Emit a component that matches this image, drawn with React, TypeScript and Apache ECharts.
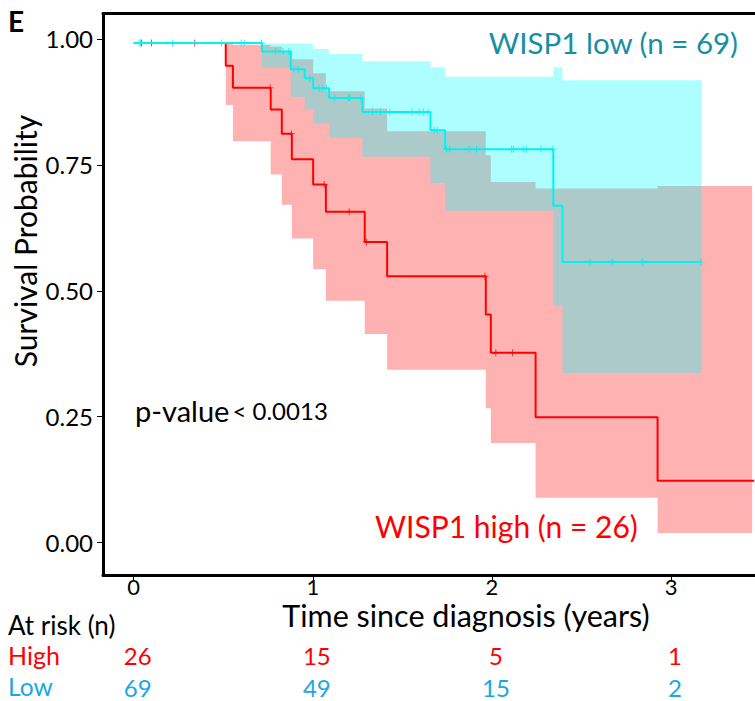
import React, { useEffect, useRef } from "react";
import * as echarts from "echarts";

// ---------- data ----------
const tickYears = [0, 1, 2, 3];
const yTicks = [0, 0.25, 0.5, 0.75, 1];
const highAtRisk = [26, 15, 5, 1];
const lowAtRisk = [69, 49, 15, 2];

// Kaplan-Meier step curves (time in years, survival probability)
const lowStepT = [0, 0.716, 0.877, 0.955, 1.002, 1.091, 1.277, 1.657, 1.739, 2.343, 2.394, 3.168];
const lowStepS = [0.992, 0.975, 0.94, 0.922, 0.902, 0.883, 0.855, 0.819, 0.781, 0.669, 0.557, 0.557];

const highStepT = [0, 0.514, 0.554, 0.765, 0.827, 0.883, 1.002, 1.073, 1.29, 1.415, 1.966, 1.994, 2.244, 2.925, 3.465];
const highStepS = [0.992, 0.947, 0.903, 0.86, 0.812, 0.761, 0.711, 0.657, 0.597, 0.529, 0.453, 0.377, 0.249, 0.123, 0.123];

// censoring times
const lowCensorT = [0.03, 0.038, 0.216, 0.49, 0.6, 0.617, 0.713, 0.793, 0.834, 0.866, 0.894, 0.918, 0.983, 1.034, 1.052, 1.076, 1.123, 1.2, 1.207, 1.268, 1.333, 1.378, 1.43, 1.553, 1.594, 1.617, 1.644, 1.678, 1.694, 1.747, 1.765, 1.873, 1.914, 2.11, 2.12, 2.175, 2.194, 2.274, 2.34, 2.547, 2.672, 2.842, 3.168];
const highCensorT = [0.043, 0.099, 0.341, 0.762, 0.88, 1.063, 1.203, 1.3, 1.961, 2.022, 2.116];

// confidence bands: interval edges, and upper / lower value per interval
const lowBandT = [0.716, 0.877, 0.955, 1.002, 1.091, 1.277, 1.657, 1.739, 2.343, 2.394, 3.17];
const lowBandUpper = [0.991, 0.991, 0.991, 0.98, 0.97, 0.956, 0.944, 0.925, 0.944, 0.918];
const lowBandLower = [0.943, 0.885, 0.859, 0.832, 0.804, 0.766, 0.714, 0.659, 0.471, 0.337];

const highBandT = [0.514, 0.554, 0.765, 0.827, 0.883, 1.002, 1.073, 1.29, 1.415, 1.966, 1.994, 2.244, 2.925, 3.453];
const highBandUpper = [0.99, 0.988, 0.985, 0.975, 0.96, 0.932, 0.896, 0.862, 0.817, 0.769, 0.716, 0.703, 0.708];
const highBandLower = [0.869, 0.797, 0.731, 0.671, 0.604, 0.543, 0.48, 0.414, 0.343, 0.267, 0.198, 0.089, 0.019];

// ---------- helpers ----------
const FONT = "Lato";
const X_MIN = -0.1714;
const X_MAX = 3.469;
const Y_MIN = -0.0643;
const Y_MAX = 1.0506;

function survAt(T: number[], S: number[], t: number) {
  let v = S[0];
  for (let i = 0; i < T.length; i++) if (T[i] <= t) v = S[i];
  return v;
}

function bandPoints(T: number[], U: number[], L: number[]) {
  const pts: number[][] = [];
  for (let i = 0; i < U.length; i++) {
    pts.push([T[i], U[i]], [T[i + 1], U[i]]);
  }
  for (let i = L.length - 1; i >= 0; i--) {
    pts.push([T[i + 1], L[i]], [T[i], L[i]]);
  }
  return pts;
}

function bandSeries(T: number[], U: number[], L: number[], fill: string) {
  const pts = bandPoints(T, U, L);
  return {
    type: "custom",
    data: [[T[0], U[0]]],
    encode: { x: 0, y: 1 },
    silent: true,
    renderItem: (_p: any, api: any) => ({
      type: "polygon",
      shape: { points: pts.map((p) => api.coord(p)) },
      style: { fill, stroke: "none" },
    }),
  };
}

const PLUS =
  "path://M-0.13,-1H0.13V-0.13H1V0.13H0.13V1H-0.13V0.13H-1V-0.13H-0.13Z";

export default function App() {
  const ref = useRef<HTMLDivElement>(null);

  useEffect(() => {
    if (!ref.current) return;
    const chart = echarts.init(ref.current, undefined, { renderer: "svg" });

    const baseX = {
      type: "value",
      min: X_MIN,
      max: X_MAX,
      splitLine: { show: false },
    };

    const riskAxis = (vals: number[], color: string, offset: number) => ({
      ...baseX,
      position: "bottom",
      offset,
      axisLine: { show: false },
      axisTick: { show: false },
      axisLabel: {
        show: true,
        customValues: tickYears,
        formatter: (v: number) => String(vals[tickYears.indexOf(Math.round(v))]),
        color,
        fontFamily: FONT,
        fontSize: 24,
        lineHeight: 20,
        margin: 0,
        verticalAlign: "middle",
        padding: [0, 0, 0, 8],
      },
    });

    chart.setOption({
      animation: false,
      backgroundColor: "#fff",
      grid: { left: 103, right: 0, top: 13.5, bottom: 126, containLabel: false },
      xAxis: [
        {
          ...baseX,
          position: "bottom",
          axisLine: { show: true, onZero: false, lineStyle: { color: "#000", width: 3 } },
          axisTick: {
            show: true,
            customValues: tickYears,
            length: 5,
            lineStyle: { color: "#000", width: 1 },
          },
          axisLabel: {
            show: true,
            customValues: tickYears,
            formatter: (v: number) => String(Math.round(v)),
            color: "#000",
            fontFamily: FONT,
            fontSize: 22,
            lineHeight: 18,
            margin: 2,
          },
        },
        {
          ...baseX,
          position: "top",
          axisLine: { show: true, onZero: false, lineStyle: { color: "#000", width: 3 } },
          axisTick: { show: false },
          axisLabel: { show: false },
        },
        riskAxis(highAtRisk, "#FF0000", 80),
        riskAxis(lowAtRisk, "#1AA7E8", 112.5),
      ],
      yAxis: {
        type: "value",
        min: Y_MIN,
        max: Y_MAX,
        splitLine: { show: false },
        axisLine: { show: true, onZero: false, lineStyle: { color: "#000", width: 3 } },
        axisTick: {
          show: true,
          customValues: yTicks,
          length: 6,
          lineStyle: { color: "#000", width: 1 },
        },
        axisLabel: {
          show: true,
          customValues: yTicks,
          formatter: (v: number) => v.toFixed(2),
          color: "#000",
          fontFamily: FONT,
          fontSize: 24,
          margin: 10,
        },
      },
      series: [
        bandSeries(highBandT, highBandUpper, highBandLower, "rgba(255,0,0,0.3)"),
        bandSeries(lowBandT, lowBandUpper, lowBandLower, "rgba(0,255,255,0.32)"),
        {
          type: "line",
          step: "end",
          symbol: "none",
          data: highStepT.map((t, i) => [t, highStepS[i]]),
          lineStyle: { color: "#FF0000", width: 2 },
          silent: true,
        },
        {
          type: "line",
          step: "end",
          symbol: "none",
          data: lowStepT.map((t, i) => [t, lowStepS[i]]),
          lineStyle: { color: "#00F2F2", width: 2 },
          silent: true,
        },
        {
          type: "scatter",
          symbol: PLUS,
          symbolSize: 7,
          itemStyle: { color: "#E00000" },
          data: highCensorT.map((t) => [t, survAt(highStepT, highStepS, t)]),
          silent: true,
        },
        {
          type: "scatter",
          symbol: PLUS,
          symbolSize: 7,
          itemStyle: { color: "#00E8E8" },
          data: lowCensorT.map((t) => [t, survAt(lowStepT, lowStepS, t)]),
          silent: true,
        },
      ],
      graphic: [
        {
          type: "text",
          x: 8,
          y: 21,
          style: {
            text: "E",
            fontFamily: FONT,
            fontWeight: "bold",
            fontSize: 28,
            fill: "#000",
            verticalAlign: "middle",
          },
        },
        {
          type: "text",
          x: 738,
          y: 42,
          style: {
            text: "WISP1 low (n = 69)",
            fontFamily: FONT,
            fontSize: 29.5,
            fill: "#168FA3",
            align: "right",
            verticalAlign: "middle",
          },
        },
        {
          type: "text",
          x: 375,
          y: 526,
          style: {
            text: "WISP1 high (n = 26)",
            fontFamily: FONT,
            fontSize: 30,
            fill: "#FF0000",
            align: "left",
            verticalAlign: "middle",
          },
        },
        {
          type: "text",
          x: 135,
          y: 410,
          style: {
            text: "{a|p-value} {b|< 0.0013}",
            fontFamily: FONT,
            fill: "#000",
            verticalAlign: "middle",
            rich: {
              a: { fontFamily: FONT, fontSize: 29, fill: "#000" },
              b: { fontFamily: FONT, fontSize: 24, fill: "#000" },
            },
          },
        },
        {
          type: "text",
          x: 25,
          y: 241,
          rotation: Math.PI / 2,
          style: {
            text: "Survival Probability",
            fontFamily: FONT,
            fontSize: 30,
            fill: "#000",
            align: "center",
            verticalAlign: "middle",
          },
        },
        {
          type: "text",
          x: 466,
          y: 615,
          style: {
            text: "Time since diagnosis (years)",
            fontFamily: FONT,
            fontSize: 30.5,
            lineHeight: 26,
            fill: "#000",
            align: "center",
            verticalAlign: "middle",
          },
        },
        {
          type: "text",
          x: 8,
          y: 625,
          style: {
            text: "At risk (n)",
            fontFamily: FONT,
            fontSize: 26,
            lineHeight: 24,
            fill: "#000",
            verticalAlign: "middle",
          },
        },
        {
          type: "text",
          x: 8,
          y: 655,
          style: {
            text: "High",
            fontFamily: FONT,
            fontSize: 25,
            lineHeight: 22,
            fill: "#FF0000",
            verticalAlign: "middle",
          },
        },
        {
          type: "text",
          x: 8,
          y: 686.5,
          style: {
            text: "Low",
            fontFamily: FONT,
            fontSize: 24.5,
            lineHeight: 20,
            fill: "#1AA7E8",
            verticalAlign: "middle",
          },
        },
      ],
    });

    return () => chart.dispose();
  }, []);

  return (
    <div
      ref={ref}
      style={{ position: "fixed", left: 0, top: 0, width: 755, height: 701, background: "#fff" }}
    />
  );
}
